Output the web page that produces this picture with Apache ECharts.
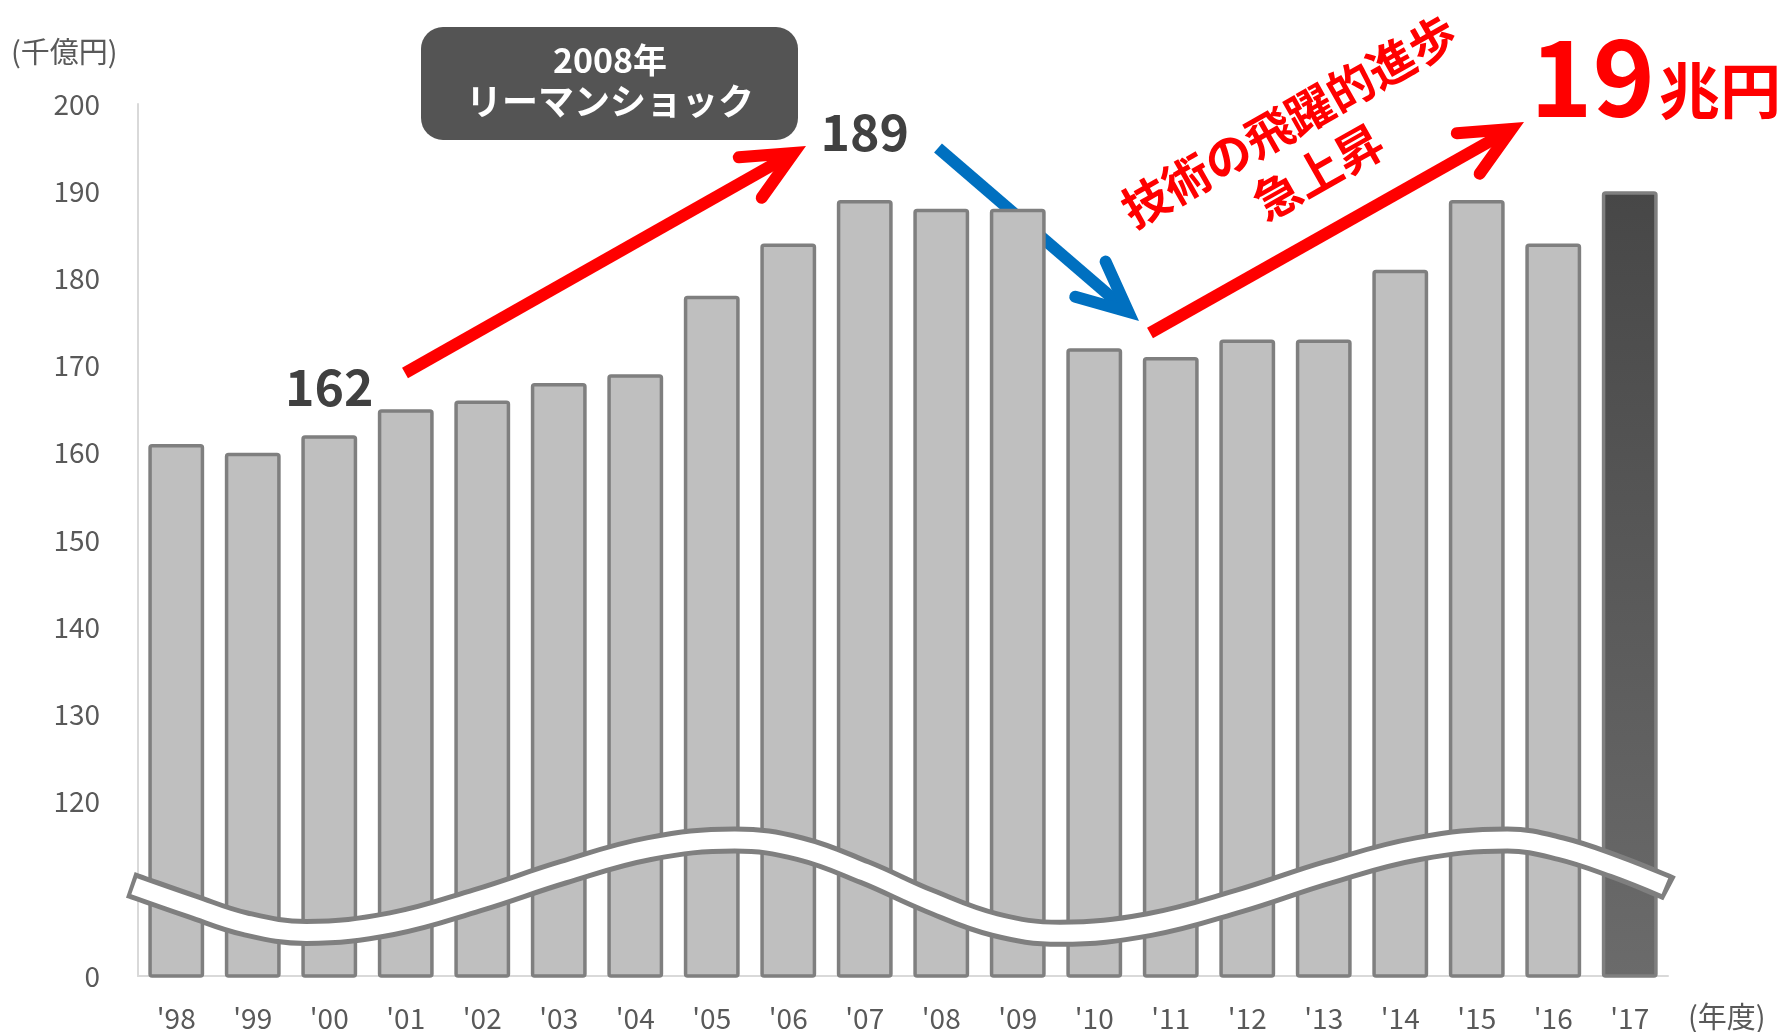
<!DOCTYPE html>
<html>
<head>
<meta charset="utf-8">
<script src="https://cdn.jsdelivr.net/npm/echarts@6/dist/echarts.min.js"></script>
<style>
  html, body { margin: 0; padding: 0; background: #fff; }
  #chart { width: 1785px; height: 1032px; }
</style>
</head>
<body>
<div id="chart"></div>
<script>
// Fiscal years and market size (千億円)
const YEARS = ["'98", "'99", "'00", "'01", "'02", "'03", "'04", "'05", "'06", "'07",
               "'08", "'09", "'10", "'11", "'12", "'13", "'14", "'15", "'16", "'17"];
const VALUES = [161, 160, 162, 165, 166, 168, 169, 178, 184, 189,
                188, 188, 172, 171, 173, 173, 181, 189, 184, 190];

// Value-axis tick labels; the axis is broken, so the bottom tick reads 0
const Y_LABELS = ['0', '', '120', '130', '140', '150', '160', '170', '180', '190', '200'];

// Bars whose values are called out above them
const CALLOUT_INDEX = [2, 9];

// Axis-break ribbon drawn across the bars (category position, axis value)
const BREAK_PATH = [
  [-0.55, 110.3], [0.2, 108.0], [0.9, 106.0], [1.7, 105.0],
  [2.82, 106.0], [3.94, 108.7], [5.06, 111.9], [6.18, 114.6], [7.3, 115.6],
  [8.15, 114.6], [9.0, 111.9], [9.85, 108.6], [10.7, 105.9], [11.55, 104.9],
  [12.72, 105.9], [13.89, 108.6], [15.06, 111.9], [16.23, 114.6], [17.4, 115.6],
  [18.1, 114.6], [18.8, 112.6], [19.46, 110.3]
];

const FONT = "'Noto Sans CJK JP', 'Noto Sans', sans-serif";
const BAR_FILL = '#bfbfbf';
const BAR_EDGE = '#7f7f7f';
const LABEL_GREY = '#595959';

const barData = VALUES.map((v, i) => {
  const item = { value: v };
  if (i === VALUES.length - 1) {
    item.itemStyle = {
      color: new echarts.graphic.LinearGradient(0, 0, 0, 1, [
        { offset: 0, color: '#474747' },
        { offset: 1, color: '#6b6b6b' }
      ])
    };
  }
  const c = CALLOUT_INDEX.indexOf(i);
  if (c >= 0) {
    item.label = {
      show: true,
      position: 'top',
      distance: c === 0 ? 23 : 43,
      formatter: '{c}',
      fontFamily: FONT,
      fontWeight: 'bold',
      fontSize: 50,
      color: '#404040'
    };
  }
  return item;
});

// Straight arrow with an open chevron head
function arrow(x1, y1, x2, y2, color, w, headLen, headDeg) {
  const len = Math.hypot(x2 - x1, y2 - y1);
  const dx = (x2 - x1) / len, dy = (y2 - y1) / len;
  const half = headDeg * Math.PI / 180;
  const back = (w / 2) / Math.sin(half);
  const vx = x2 - dx * back, vy = y2 - dy * back;
  const rx = -dx, ry = -dy;
  const rot = (a) => [rx * Math.cos(a) - ry * Math.sin(a), rx * Math.sin(a) + ry * Math.cos(a)];
  const b1 = rot(half), b2 = rot(-half);
  return {
    type: 'group',
    children: [
      {
        type: 'line',
        shape: { x1: x1, y1: y1, x2: vx, y2: vy },
        style: { stroke: color, lineWidth: w, lineCap: 'butt' }
      },
      {
        type: 'polyline',
        shape: { points: [
          [vx + b1[0] * headLen, vy + b1[1] * headLen],
          [vx, vy],
          [vx + b2[0] * headLen, vy + b2[1] * headLen]
        ] },
        style: { stroke: color, fill: null, lineWidth: w, lineCap: 'round', lineJoin: 'miter' }
      }
    ]
  };
}

const chart = echarts.init(document.getElementById('chart'), null, { renderer: 'canvas' });

const option = {
  animation: false,
  backgroundColor: '#ffffff',
  grid: { left: 138, right: 117, top: 104, bottom: 55, containLabel: false },
  xAxis: [
    {
      type: 'category',
      data: YEARS,
      axisLine: { show: true, lineStyle: { color: '#d9d9d9', width: 2 } },
      axisTick: { show: false },
      axisLabel: { color: LABEL_GREY, fontSize: 28, fontFamily: FONT, margin: 28 }
    },
    {
      type: 'value',
      min: -0.5,
      max: YEARS.length - 0.5,
      show: false
    }
  ],
  yAxis: {
    type: 'value',
    min: 100,
    max: 200,
    interval: 10,
    axisLine: { show: true, onZero: false, lineStyle: { color: '#d9d9d9', width: 2 } },
    axisTick: { show: false },
    splitLine: { show: false },
    axisLabel: {
      color: LABEL_GREY, fontSize: 28, fontFamily: FONT, margin: 38,
      formatter: (v) => Y_LABELS[Math.round((v - 100) / 10)]
    }
  },
  series: [
    {
      type: 'bar',
      xAxisIndex: 0,
      data: barData,
      barCategoryGap: '27%',
      itemStyle: { color: BAR_FILL, borderColor: BAR_EDGE, borderWidth: 3.5, borderRadius: 2 },
      z: 2
    },
    {
      type: 'line',
      xAxisIndex: 1,
      data: [[-0.6, 110.45]].concat(BREAK_PATH, [[19.52, 110.05]]),
      smooth: 0.4,
      symbol: 'none',
      clip: false,
      silent: true,
      lineStyle: { color: '#7f7f7f', width: 27, cap: 'butt' },
      z: 5
    },
    {
      type: 'line',
      xAxisIndex: 1,
      data: BREAK_PATH,
      smooth: 0.4,
      symbol: 'none',
      clip: false,
      silent: true,
      lineStyle: { color: '#ffffff', width: 17, cap: 'butt' },
      z: 6
    }
  ],
  graphic: [
    // unit captions
    {
      type: 'text', x: 11, y: 52,
      style: { text: '(千億円)', font: `29px ${FONT}`, fill: LABEL_GREY, verticalAlign: 'middle' }
    },
    {
      type: 'text', x: 1688, y: 1017,
      style: { text: '(年度)', font: `29px ${FONT}`, fill: LABEL_GREY, verticalAlign: 'middle' }
    },
    // 2008 crisis note
    {
      type: 'rect',
      shape: { x: 421, y: 27, width: 377, height: 113, r: 22 },
      style: { fill: '#545454' }
    },
    {
      type: 'text', x: 610, y: 60,
      style: { text: '2008年', font: `bold 34px ${FONT}`, fill: '#ffffff', align: 'center', verticalAlign: 'middle' }
    },
    {
      type: 'text', x: 610, y: 101,
      style: { text: 'リーマンショック', font: `bold 36px ${FONT}`, fill: '#ffffff', align: 'center', verticalAlign: 'middle' }
    },
    // trend arrows
    arrow(405, 373, 806, 146, '#ff0000', 12, 55, 25),
    arrow(938, 148, 1139, 321, '#0070c0', 12, 55, 25),
    arrow(1150, 333, 1524, 122, '#ff0000', 12, 55, 25),
    // growth caption
    {
      type: 'text', x: 1289, y: 121, rotation: 29.5 * Math.PI / 180,
      style: { text: '技術の飛躍的進歩', font: `bold 47px ${FONT}`, fill: '#ff0000', align: 'center', verticalAlign: 'middle' }
    },
    {
      type: 'text', x: 1318, y: 172, rotation: 29.5 * Math.PI / 180,
      style: { text: '急上昇', font: `bold 47px ${FONT}`, fill: '#ff0000', align: 'center', verticalAlign: 'middle' }
    },
    // latest year in 兆円
    {
      type: 'text', x: 1530, y: 130,
      style: {
        text: `{n|${VALUES[VALUES.length - 1] / 10}}{u|兆円}`,
        align: 'left', verticalAlign: 'bottom',
        rich: {
          n: { fontFamily: FONT, fontWeight: 'bold', fontSize: 106, lineHeight: 106, fill: '#ff0000', verticalAlign: 'bottom' },
          u: { fontFamily: FONT, fontWeight: 'bold', fontSize: 61, lineHeight: 61, fill: '#ff0000', verticalAlign: 'bottom', padding: [0, 0, 9, 4] }
        }
      }
    }
  ]
};

chart.setOption(option);
</script>
</body>
</html>
